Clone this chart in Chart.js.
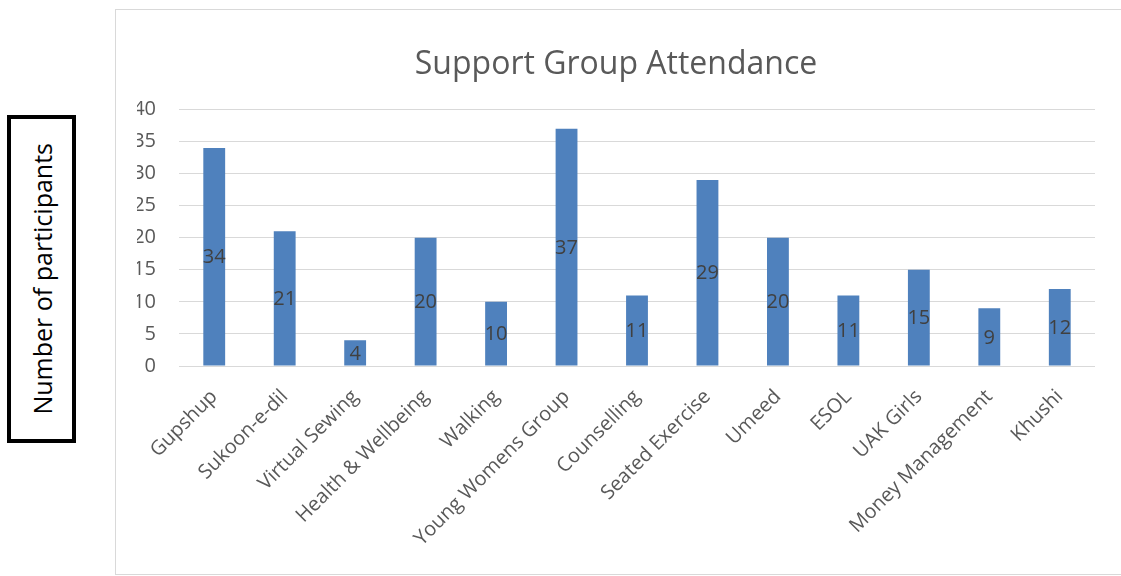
<!DOCTYPE html>
<html>
<head>
<meta charset="utf-8">
<title>Support Group Attendance</title>
<script src="https://cdn.jsdelivr.net/npm/chart.js@4/dist/chart.umd.min.js"></script>
<style>
  html, body { margin: 0; padding: 0; background: #fff; }
  body { width: 1121px; height: 576px; position: relative; overflow: hidden; font-family: "Open Sans", sans-serif; }
  #axisTitle {
    position: absolute; left: 7px; top: 115px; width: 69px; height: 328px;
    box-sizing: border-box; border: 4px solid #000;
    display: flex; align-items: center; justify-content: center;
  }
  #axisTitle span {
    writing-mode: vertical-rl; transform: rotate(180deg);
    font-size: 25px; color: #000; white-space: nowrap;
  }
  #frame {
    position: absolute; left: 115px; top: 9px; width: 1020px; height: 564px;
    border: 1px solid #d9d9d9;
  }
  #chart { position: absolute; left: 0; top: 0; }
</style>
</head>
<body>
<div id="axisTitle"><span>Number of participants</span></div>
<div id="frame"><canvas id="chart" width="1003" height="564"></canvas></div>
<script>
// groups and how many people came to each
const groups = ["Gupshup", "Sukoon-e-dil", "Virtual Sewing", "Health & Wellbeing", "Walking",
  "Young Womens Group", "Counselling", "Seated Exercise", "Umeed", "ESOL", "UAK Girls",
  "Money Management", "Khushi"];
const attendance = [34, 21, 4, 20, 10, 37, 11, 29, 20, 11, 15, 9, 12];
const yTicks = [0, 5, 10, 15, 20, 25, 30, 35, 40];

const textGrey = '#595959';

// writes each value in the middle of its bar
const barValueLabels = {
  id: 'barValueLabels',
  afterDatasetsDraw(chart) {
    const ctx = chart.ctx;
    const meta = chart.getDatasetMeta(0);
    ctx.save();
    ctx.font = '20px "Open Sans"';
    ctx.fillStyle = '#404040';
    ctx.textAlign = 'center';
    ctx.textBaseline = 'middle';
    meta.data.forEach((bar, i) => {
      ctx.fillText(String(attendance[i]), bar.x, (bar.y + bar.base) / 2 + 1);
    });
    ctx.restore();
  }
};

new Chart(document.getElementById('chart'), {
  type: 'bar',
  data: {
    labels: groups,
    datasets: [{
      data: attendance,
      backgroundColor: '#4f81bd',
      borderWidth: 0,
      categoryPercentage: 1,
      barPercentage: 0.31
    }]
  },
  options: {
    responsive: false,
    animation: false,
    devicePixelRatio: 1,
    // equal-ish side padding keeps the title centred on the frame
    layout: { padding: { left: 21, right: 24, top: 0, bottom: 0 } },
    plugins: {
      legend: { display: false },
      tooltip: { enabled: false },
      title: {
        display: true,
        text: 'Support Group Attendance',
        color: textGrey,
        font: { family: 'Open Sans', size: 32, weight: 'normal' },
        padding: { top: 36, bottom: 25 }
      }
    },
    scales: {
      x: {
        grid: { display: false },
        border: { display: false },
        ticks: {
          color: textGrey,
          font: { family: 'Open Sans', size: 20 },
          minRotation: 45,
          maxRotation: 45,
          autoSkip: false,
          padding: 11
        },
        afterFit(scale) { scale.height = 208; }
      },
      y: {
        min: 0,
        max: 40,
        afterBuildTicks(scale) { scale.ticks = yTicks.map(v => ({ value: v })); },
        grid: { color: '#d9d9d9', lineWidth: 1, drawTicks: false },
        border: { display: false },
        ticks: {
          color: textGrey,
          font: { family: 'Open Sans', size: 20 },
          padding: 23
        },
        afterFit(scale) { scale.width = 42; }
      }
    }
  },
  plugins: [barValueLabels]
});
</script>
</body>
</html>
